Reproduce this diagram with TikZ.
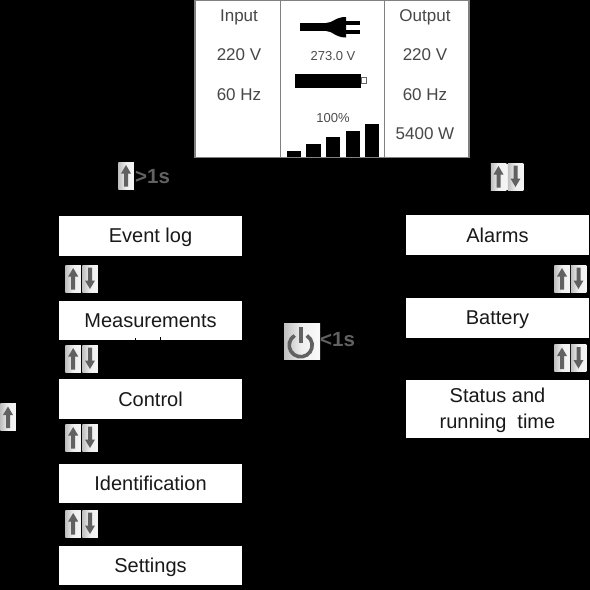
\documentclass[tikz,border=0pt]{standalone}
\usepackage{fontspec}
\setmainfont{Liberation Sans}
\usetikzlibrary{calc}
\tikzset{x=1pt,y=-1pt,
  menubox/.style={fill=white,draw=none,minimum width=183pt,inner sep=0pt,align=center,font=\fontsize{20}{26}\selectfont,text=black!90},
  oneline/.style={text height=14pt,text depth=0pt},
  keybox/.style={inner sep=0pt,minimum width=15.5pt,minimum height=27pt,left color=black!25,right color=black!4,middle color=black!6},
  panellabel/.style={inner sep=0pt,text height=12pt,text depth=0pt,font=\fontsize{17}{20}\selectfont,text=black!72},
  smalllabel/.style={inner sep=0pt,font=\fontsize{13}{15}\selectfont,text=black!70},
  timelabel/.style={inner sep=0pt,anchor=west,font=\bfseries\fontsize{20.5}{24}\selectfont,text=black!62},
  panelline/.style={draw=black!50,line width=1.3pt}
}
\newcommand{\upkey}[3]{% name, cx, cy
  \node[keybox] (#1) at (#2,#3) {};
  \fill[black!62] ($(#1)+(-2,11)$) -- ++(0,-13) -- ++(-3,0) -- ++(5,-8.5) -- ++(5,8.5) -- ++(-3,0) -- ++(0,13) -- cycle;
}
\newcommand{\downkey}[3]{%
  \node[keybox] (#1) at (#2,#3) {};
  \fill[black!62] ($(#1)+(-2,-11)$) -- ++(0,13) -- ++(-3,0) -- ++(5,8.5) -- ++(5,-8.5) -- ++(-3,0) -- ++(0,-13) -- cycle;
}
\begin{document}
\begin{tikzpicture}
\useasboundingbox (0,0) rectangle (590,590);
\fill[black] (0,0) rectangle (590,590);
% panel
\fill[white] (194.5,0) rectangle (469,158);
\draw[panelline] (195,0) -- (195,157.5) -- (469,157.5) -- (469,0) -- cycle;
\draw[panelline] (280.7,0) -- (280.7,157.5);
\draw[panelline] (384.7,0) -- (384.7,157.5);
\node[panellabel] (inA) at (239,15) {Input};
\node[panellabel] (inB) at (239,54.5) {220 V};
\node[panellabel] (inC) at (239,94) {60 Hz};
\node[panellabel] (outA) at (425,15) {Output};
\node[panellabel] (outB) at (425,54.5) {220 V};
\node[panellabel] (outC) at (425,94) {60 Hz};
\node[panellabel] (outD) at (425,133.5) {5400 W};
\node[smalllabel] (volt) at (333,56.5) {273.0 V};
\node[smalllabel] (pct) at (333,118) {100\%};
% plug
\fill[black] (299.5,23) rectangle (328,31);
\fill[black] (326,23) .. controls (333,23) and (335,17) .. (346,17) -- (346,37.5) .. controls (335,37.5) and (333,31) .. (326,31) -- cycle;
\fill[black] (345,21) rectangle (359.5,24.5);
\fill[black] (345,30) rectangle (359.5,33.5);
% battery
\fill[black] (295,73.5) rectangle (361,87.5);
\draw[black!60,line width=0.7pt] (361,77) rectangle (366.5,83);
% bars
\fill[black] (287,150.5) rectangle (301,157);
\fill[black] (306,143.5) rectangle (320.5,157);
\fill[black] (326,137) rectangle (340,157);
\fill[black] (345.5,131) rectangle (359.5,157);
\fill[black] (365,124) rectangle (379,157);
% menu
\node[menubox,oneline,minimum height=40pt] (ev) at (150.5,235.5) {Event log};
\node[menubox,oneline,minimum height=39.5pt] (me) at (150.5,320.7) {Measurements};
\node[menubox,oneline,minimum height=40pt] (co) at (150.5,399) {Control};
\node[menubox,oneline,minimum height=39pt] (id) at (150.5,483.5) {Identification};
\node[menubox,oneline,minimum height=39pt] (se) at (150.5,565.5) {Settings};
\node[menubox,oneline,minimum height=40pt] (al) at (497.5,235) {Alarms};
\node[menubox,oneline,minimum height=40pt] (ba) at (497.5,317.5) {Battery};
\node[menubox,minimum height=58pt] (st) at (497.5,409) {\rule{0pt}{18pt}Status and\\running\ \ time};
% clipped remnants at the lower edge of the Measurements box
\fill[black] (134.5,337.5) rectangle (135.5,340.5);
\fill[black] (160.2,336.5) rectangle (161.2,340.5);
% keys
\upkey{a1}{73.2}{278.5}\downkey{a2}{90}{278.5}
\upkey{b1}{73.2}{358.5}\downkey{b2}{90}{358.5}
\upkey{c1}{73.2}{437.5}\downkey{c2}{90}{437.5}
\upkey{d1}{73.2}{523.5}\downkey{d2}{90}{523.5}
\upkey{e1}{562}{278.5}\downkey{e2}{578.5}{278.5}
\upkey{f1}{562}{358}\downkey{f2}{578.5}{358}
\fill[black!4] (498,164) rectangle (516,190);
\upkey{g1}{498.5}{176.5}\downkey{g2}{515.5}{176.5}
\upkey{h1}{126}{175.5}
\upkey{i1}{8}{417}
\node[timelabel] (gt) at (135,176.5) {>1s};
% power key
\node[inner sep=0pt,minimum size=36pt,left color=black!25,right color=black!2,middle color=black!6] (pw) at (302,341) {};
\draw[black!62,line width=3.6pt] ($(pw)+(-7.4,-5.5)$) arc[start angle=122,end angle=418,radius=11.5pt];
\draw[black!62,line width=3.6pt] ($(pw)+(-1.3,-14)$) -- ($(pw)+(-1.3,2)$);
\node[timelabel] (lt) at (320,340) {<1s};
\end{tikzpicture}
\end{document}
